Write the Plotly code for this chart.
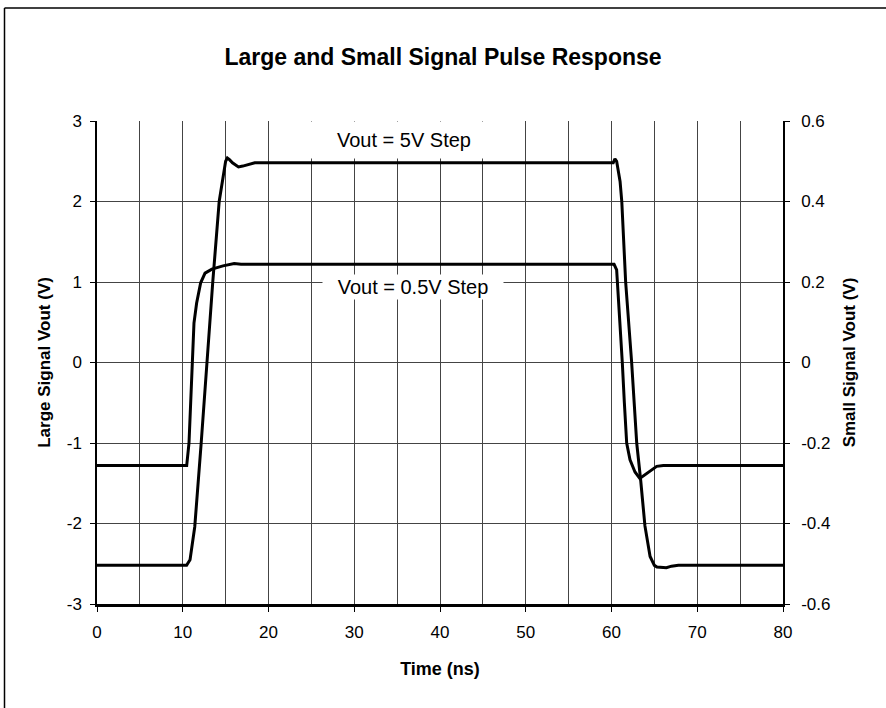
import plotly.graph_objects as go

# ---------------- data ----------------
# Large signal (5V step), left axis, volts
t_large = [0, 10.45, 10.85, 11.4, 12.15, 12.8, 13.5, 14.25, 14.8, 15.0, 15.2, 15.45,
           15.8, 16.5, 17.0, 17.6, 18.4, 60.2, 60.4, 60.6, 60.87, 61.0, 61.2, 61.65,
           62.35, 62.94, 63.4, 63.9, 64.5, 65.0, 65.3, 66.4, 67.0, 67.8, 80]
v_large = [-2.52, -2.52, -2.45, -2.04, -1.0, 0.0, 1.0, 2.0, 2.39, 2.5, 2.54, 2.52,
           2.48, 2.43, 2.44, 2.46, 2.48, 2.48, 2.53, 2.5, 2.35, 2.25, 2.0, 1.0,
           0.0, -1.0, -1.46, -2.03, -2.41, -2.52, -2.54, -2.55, -2.53, -2.52, -2.52]

# Small signal (0.5V step), right axis, volts
t_small = [0, 10.46, 10.73, 10.92, 11.16, 11.31, 11.62, 12.09, 12.6, 13.4, 14.7,
           16.0, 16.8, 60.3, 60.6, 60.91, 61.26, 61.5, 61.77, 62.16, 62.74, 63.3,
           64.3, 65.27, 66.04, 80]
v_small = [-0.256, -0.256, -0.2, -0.1, 0.0, 0.098, 0.148, 0.198, 0.222, 0.232, 0.240,
           0.246, 0.244, 0.244, 0.23, 0.13, 0.0, -0.1, -0.2, -0.242, -0.272, -0.288,
           -0.272, -0.258, -0.256, -0.256]

x_ticks = [0, 10, 20, 30, 40, 50, 60, 70, 80]
y_ticks = [3, 2, 1, 0, -1, -2, -3]
y_tick_text = ["3", "2", "1", "0", "-1", "-2", "-3"]
y2_ticks = [0.6, 0.4, 0.2, 0, -0.2, -0.4, -0.6]
y2_tick_text = ["0.6", "0.4", "0.2", "0", "-0.2", "-0.4", "-0.6"]

title_text = "Large and Small Signal Pulse Response"
x_title = "Time (ns)"
y_title = "Large Signal Vout (V)"
y2_title = "Small Signal Vout (V)"
label_large = "Vout = 5V Step"
label_small = "Vout = 0.5V Step"

FONT = "Liberation Sans, Arial, sans-serif"
GRID = "#444444"

fig = go.Figure()
fig.add_trace(go.Scatter(x=t_large, y=v_large, mode="lines", yaxis="y",
                         line=dict(color="black", width=3), showlegend=False))
fig.add_trace(go.Scatter(x=t_small, y=v_small, mode="lines", yaxis="y2",
                         line=dict(color="black", width=3), showlegend=False))

fig.update_layout(
    width=886, height=708,
    margin=dict(l=97, r=103, t=121, b=104, pad=0),
    paper_bgcolor="white", plot_bgcolor="white",
    font=dict(family=FONT, color="black", size=17),
    title=dict(text="<b>" + title_text + "</b>", x=0.5, xanchor="center",
               y=1 - 57 / 708, yanchor="middle", yref="container",
               font=dict(size=23, family=FONT, color="black")),
    xaxis=dict(range=[0, 80], tickvals=x_ticks, ticks="outside", ticklen=5,
               tickcolor="black", tickwidth=1,
               showgrid=True, gridcolor=GRID, gridwidth=1,
               minor=dict(dtick=5, showgrid=True, gridcolor=GRID, gridwidth=1),
               showline=True, linecolor="black", linewidth=3, zeroline=False,
               ticklabelstandoff=6,
               title=dict(text="<b>" + x_title + "</b>", standoff=21,
                          font=dict(size=18))),
    yaxis=dict(range=[-3, 3], tickvals=y_ticks, ticktext=y_tick_text,
               ticks="outside", ticklen=5, tickcolor="black", tickwidth=1,
               showgrid=True, gridcolor=GRID, gridwidth=1,
               showline=True, linecolor="black", linewidth=1.5, zeroline=False,
               ticklabelstandoff=5,
               title=dict(text="<b>" + y_title + "</b>", standoff=12,
                          font=dict(size=17))),
    yaxis2=dict(range=[-0.6, 0.6], tickvals=y2_ticks, ticktext=y2_tick_text,
                overlaying="y", side="right",
                ticks="outside", ticklen=5, tickcolor="black", tickwidth=1,
                showgrid=False, showline=True, linecolor="black", linewidth=1.5,
                zeroline=False, ticklabelstandoff=8,
                title=dict(text="<b>" + y2_title + "</b>", standoff=14,
                           font=dict(size=17))),
)

fig.add_annotation(x=35.8, y=2.76, xref="x", yref="y", text=label_large,
                   showarrow=False, bgcolor="white", width=206, height=36,
                   borderpad=0, font=dict(size=20, family=FONT, color="black"))
fig.add_annotation(x=36.9, y=0.935, xref="x", yref="y", text=label_small,
                   showarrow=False, bgcolor="white", width=180, height=24,
                   borderpad=0, font=dict(size=20, family=FONT, color="black"))

# outer chart border (left and top edges visible)
fig.add_shape(type="line", xref="paper", yref="paper",
              x0=(4.5 - 97) / 686, x1=(900 - 97) / 686,
              y0=(604 - 8) / 483, y1=(604 - 8) / 483,
              line=dict(color="black", width=1.5))
fig.add_shape(type="line", xref="paper", yref="paper",
              x0=(4.5 - 97) / 686, x1=(4.5 - 97) / 686,
              y0=(604 - 8) / 483, y1=(604 - 720) / 483,
              line=dict(color="black", width=1.5))

fig.write_html("out.html",
               config={"displayModeBar": False},
               post_script="document.body.style.margin='0';"
                           "document.body.style.overflow='hidden';")
